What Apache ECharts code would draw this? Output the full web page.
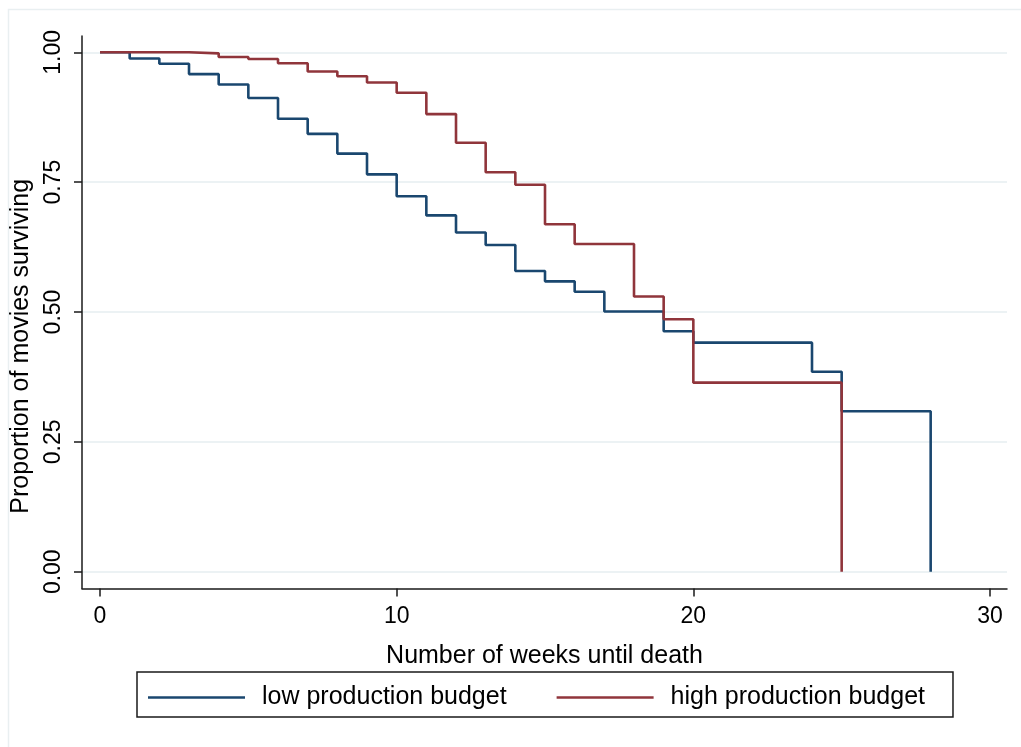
<!DOCTYPE html>
<html>
<head>
<meta charset="utf-8">
<script src="https://cdn.jsdelivr.net/npm/echarts@6/dist/echarts.min.js"></script>
<style>
html,body{margin:0;padding:0;background:#fff;}
#chart{width:1021px;height:747px;}
</style>
</head>
<body>
<div id="chart"></div>
<script>
// Kaplan-Meier survival estimates (step changes)
const lowWeeks  = [0, 1, 2, 3, 4, 5, 6, 7, 8, 9, 10, 11, 12, 13, 14, 15, 16, 17, 19, 20, 24, 25, 28];
const lowSurv   = [1.000, 0.988, 0.978, 0.958, 0.938, 0.912, 0.872, 0.843, 0.805, 0.765, 0.723, 0.686, 0.653, 0.629, 0.579, 0.559, 0.539, 0.501, 0.463, 0.441, 0.385, 0.309, 0.000];
const highWeeks = [0, 3, 4, 5, 6, 7, 8, 9, 10, 11, 12, 13, 14, 15, 16, 18, 19, 20, 25];
const highSurv  = [1.000, 0.998, 0.991, 0.987, 0.979, 0.963, 0.954, 0.942, 0.922, 0.881, 0.826, 0.769, 0.745, 0.669, 0.631, 0.530, 0.486, 0.364, 0.000];
const xTicks = [0, 10, 20, 30];
const yTicks = [0, 0.25, 0.5, 0.75, 1];
const seriesNames = ['low production budget', 'high production budget'];
const xTitle = 'Number of weeks until death';
const yTitle = 'Proportion of movies surviving';

const FONT = "'Liberation Sans', Arial, sans-serif";
const chart = echarts.init(document.getElementById('chart'), null, {renderer: 'canvas'});

function pairs(xs, ys) { return xs.map((x, i) => [x, ys[i]]); }

const option = {
  backgroundColor: '#ffffff',
  animation: false,
  graphic: [{
    type: 'rect', z: -10,
    shape: {x: 8.5, y: 9.5, width: 1100, height: 1000},
    style: {fill: 'none', stroke: '#e9eff1', lineWidth: 1.5}
  }],
  grid: {left: 82, right: 14, top: 36, bottom: 158.5, containLabel: false},
  xAxis: {
    type: 'value', min: -0.607, max: 30.573,
    name: xTitle, nameLocation: 'middle', nameGap: 55,
    nameTextStyle: {fontFamily: FONT, fontSize: 25, color: '#000'},
    axisLine: {show: true, onZero: false, lineStyle: {color: '#1a1a1a', width: 1.5}},
    axisTick: {show: true, length: 8, customValues: xTicks, lineStyle: {color: '#1a1a1a', width: 1.5}},
    axisLabel: {customValues: xTicks, margin: 17, fontFamily: FONT, fontSize: 23, color: '#000'},
    splitLine: {show: false}
  },
  yAxis: {
    type: 'value', min: -0.0323, max: 1.0314,
    name: yTitle, nameLocation: 'middle', nameGap: 44, nameRotate: 90,
    nameTextStyle: {fontFamily: FONT, fontSize: 25, color: '#000', padding: [0, 68, 0, 0]},
    axisLine: {show: true, onZero: false, lineStyle: {color: '#1a1a1a', width: 1.5}},
    axisTick: {show: true, length: 8, customValues: yTicks, lineStyle: {color: '#1a1a1a', width: 1.5}},
    axisLabel: {customValues: yTicks, rotate: 90, margin: 17, fontFamily: FONT, fontSize: 23, color: '#000',
      formatter: v => Number(v).toFixed(2)},
    splitLine: {show: true, lineStyle: {color: '#e6eef1', width: 1.5}}
  },
  legend: {
    show: true, left: 137, top: 672,
    orient: 'horizontal',
    padding: [13, 28, 7, 11],
    itemGap: 50, itemWidth: 97, itemHeight: 2.6,
    icon: 'rect',
    borderColor: '#1a1a1a', borderWidth: 1.5, borderRadius: 0,
    backgroundColor: '#fff',
    textStyle: {fontFamily: FONT, fontSize: 25, color: '#000', padding: [0, 0, 0, 12]},
    data: seriesNames
  },
  series: [
    {
      name: seriesNames[0], type: 'line', step: 'end', symbol: 'none', showSymbol: false,
      data: pairs(lowWeeks, lowSurv),
      lineStyle: {color: '#1a476f', width: 2.6},
      itemStyle: {color: '#1a476f'}
    },
    {
      name: seriesNames[1], type: 'line', step: 'end', symbol: 'none', showSymbol: false,
      data: pairs(highWeeks, highSurv),
      lineStyle: {color: '#90353b', width: 2.6},
      itemStyle: {color: '#90353b'}
    }
  ]
};
chart.setOption(option);
</script>
</body>
</html>
